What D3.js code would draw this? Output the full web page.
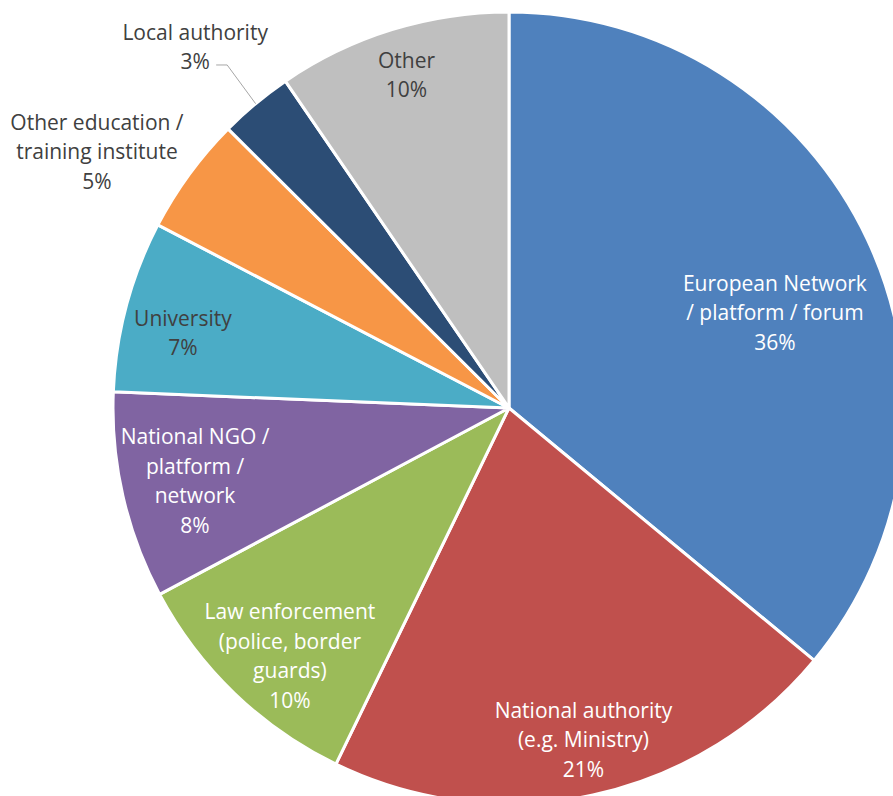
<!DOCTYPE html>
<html>
<head>
<meta charset="utf-8">
<script src="https://cdn.jsdelivr.net/npm/d3@7"></script>
<style>
  html, body { margin: 0; padding: 0; background: #fff; }
  svg { display: block; }
</style>
</head>
<body>
<svg id="chart" width="893" height="796"></svg>
<script>
// Organisation types and their shares (%), clockwise from 12 o'clock
const categories = [
  ["European Network", "/ platform / forum"],
  ["National authority", "(e.g. Ministry)"],
  ["Law enforcement", "(police, border", "guards)"],
  ["National NGO /", "platform /", "network"],
  ["University"],
  ["Other education /", "training institute"],
  ["Local authority"],
  ["Other"]
];
const values = [36.0, 21.2, 10.0, 8.45, 7.0, 4.8, 3.0, 9.55];
const colors = ["#4F81BD", "#C0504D", "#9BBB59", "#8064A2", "#4BACC6", "#F79646", "#2C4D75", "#BFBFBF"];
const labelColors = ["#fff", "#fff", "#fff", "#fff", "#404040", "#404040", "#404040", "#404040"];

// Label placement: fraction of radius and angular nudge (degrees) from the slice middle
const labelRadius = [0.713, 0.859, 0.836, 0.814, 0.845, 1.225, 1.208, 0.88];
const labelShift  = [5.55, -0.4, -2.48, -0.22, -1.98, -4.33, -1.22, 0.08];

const cx = 509, cy = 408, radius = 396;
const lineH = 29.5;
const pct = v => Math.round(v) + "%";

const svg = d3.select("#chart");
const g = svg.append("g").attr("transform", `translate(${cx},${cy})`);

const data = values.map((v, i) => ({ value: v, lines: categories[i], i }));
const pie = d3.pie().value(d => d.value).sort(null);
const arcs = pie(data);
const arc = d3.arc().innerRadius(0).outerRadius(radius);

g.selectAll("path.slice")
  .data(arcs)
  .join("path")
  .attr("class", "slice")
  .attr("d", arc)
  .attr("fill", d => colors[d.data.i])
  .attr("stroke", "#fff")
  .attr("stroke-width", 3)
  .attr("stroke-linejoin", "round");

function polar(angle, r) {
  return [r * Math.sin(angle), -r * Math.cos(angle)];
}
function labelCenter(d) {
  const i = d.data.i;
  const mid = (d.startAngle + d.endAngle) / 2 + labelShift[i] * Math.PI / 180;
  return polar(mid, radius * labelRadius[i]);
}

// Leader line for the small "Local authority" slice
const la = arcs[6];
const laEdge = polar((la.startAngle + la.endAngle) / 2, radius);
const laLabel = labelCenter(la);
g.append("polyline")
  .attr("points", [
    [laLabel[0] + 21, laLabel[1] + 18],
    [laLabel[0] + 32, laLabel[1] + 18],
    laEdge
  ].map(p => p.join(",")).join(" "))
  .attr("fill", "none")
  .attr("stroke", "#A6A6A6")
  .attr("stroke-width", 1);

// Slice labels: category lines followed by the percentage
g.selectAll("text.lbl")
  .data(arcs)
  .join("text")
  .attr("class", "lbl")
  .attr("text-anchor", "middle")
  .attr("font-family", "'Open Sans', sans-serif")
  .attr("font-size", 21)
  .attr("fill", d => labelColors[d.data.i])
  .each(function (d) {
    const [x, y] = labelCenter(d);
    const lines = d.data.lines.concat([pct(d.data.value)]);
    const top = y - (lines.length - 1) * lineH / 2;
    const t = d3.select(this);
    lines.forEach((s, k) => {
      t.append("tspan")
        .attr("x", x)
        .attr("y", top + k * lineH)
        .attr("dy", "0.35em")
        .text(s);
    });
  });
</script>
</body>
</html>
